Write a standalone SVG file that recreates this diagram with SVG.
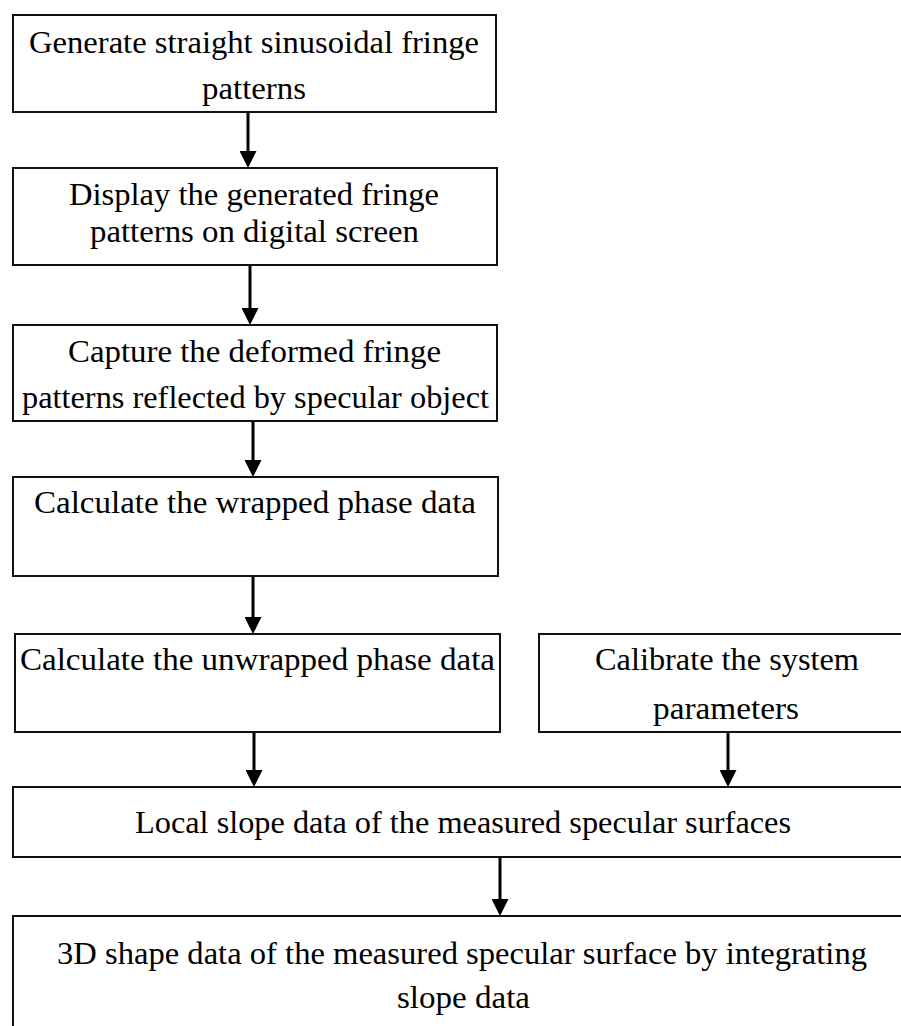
<svg xmlns="http://www.w3.org/2000/svg" width="901" height="1026" viewBox="0 0 901 1026">
<style>
.box{fill:#fff;stroke:#111;stroke-width:2}
.t{font-family:"Liberation Serif","Times New Roman",serif;font-size:30.5px;fill:#000}
.c{stroke:#000;stroke-width:3;fill:none}
</style>
<defs>
<marker id="ah" viewBox="0 0 17 17" refX="0" refY="8.5" markerWidth="17" markerHeight="17" markerUnits="userSpaceOnUse" orient="auto">
<path d="M0,0 L17,8.5 L0,17 z" fill="#000"/>
</marker>
</defs>
<rect width="901" height="1026" fill="#fff"/>
<g id="connectors">
<line class="c" x1="248" y1="112" x2="248" y2="151" marker-end="url(#ah)"/>
<line class="c" x1="250" y1="265" x2="250" y2="308" marker-end="url(#ah)"/>
<line class="c" x1="253" y1="421" x2="253" y2="460" marker-end="url(#ah)"/>
<line class="c" x1="253" y1="576" x2="253" y2="617" marker-end="url(#ah)"/>
<line class="c" x1="254" y1="732" x2="254" y2="770" marker-end="url(#ah)"/>
<line class="c" x1="728" y1="732" x2="728" y2="770" marker-end="url(#ah)"/>
<line class="c" x1="500" y1="857" x2="500" y2="899" marker-end="url(#ah)"/>
</g>
<g id="n1">
<rect class="box" x="13" y="15" width="483" height="97"/>
<text class="t" x="29" y="53" textLength="450" lengthAdjust="spacingAndGlyphs">Generate straight sinusoidal fringe</text>
<text class="t" x="202" y="99" textLength="104" lengthAdjust="spacingAndGlyphs">patterns</text>
</g>
<g id="n2">
<rect class="box" x="13" y="168" width="484" height="97"/>
<text class="t" x="69" y="205" textLength="370" lengthAdjust="spacingAndGlyphs">Display the generated fringe</text>
<text class="t" x="90" y="242" textLength="329" lengthAdjust="spacingAndGlyphs">patterns on digital screen</text>
</g>
<g id="n3">
<rect class="box" x="13" y="325" width="484" height="96"/>
<text class="t" x="68" y="362" textLength="373" lengthAdjust="spacingAndGlyphs">Capture the deformed fringe</text>
<text class="t" x="22" y="408" textLength="467" lengthAdjust="spacingAndGlyphs">patterns reflected by specular object</text>
</g>
<g id="n4">
<rect class="box" x="13" y="477" width="485" height="99"/>
<text class="t" x="34" y="513" textLength="442" lengthAdjust="spacingAndGlyphs">Calculate the wrapped phase data</text>
</g>
<g id="n5">
<rect class="box" x="15" y="634" width="485" height="98"/>
<text class="t" x="20" y="670" textLength="475" lengthAdjust="spacingAndGlyphs">Calculate the unwrapped phase data</text>
</g>
<g id="n6">
<rect class="box" x="539" y="634" width="370" height="98"/>
<text class="t" x="595" y="670" textLength="264" lengthAdjust="spacingAndGlyphs">Calibrate the system</text>
<text class="t" x="653" y="719" textLength="146" lengthAdjust="spacingAndGlyphs">parameters</text>
</g>
<g id="n7">
<rect class="box" x="13" y="787" width="896" height="70"/>
<text class="t" x="135" y="833" textLength="656" lengthAdjust="spacingAndGlyphs">Local slope data of the measured specular surfaces</text>
</g>
<g id="n8">
<rect class="box" x="13" y="916" width="896" height="120"/>
<text class="t" x="57" y="964" textLength="810" lengthAdjust="spacingAndGlyphs">3D shape data of the measured specular surface by integrating</text>
<text class="t" x="397" y="1008" textLength="133" lengthAdjust="spacingAndGlyphs">slope data</text>
</g>
</svg>
